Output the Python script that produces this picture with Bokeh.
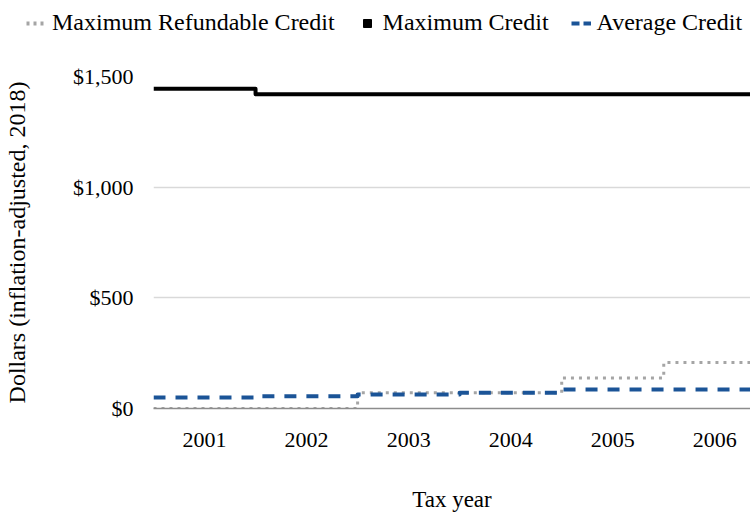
from bokeh.plotting import figure
from bokeh.layouts import column
from bokeh.models import (Legend, LegendItem, FixedTicker, NumeralTickFormatter,
                          Range1d)
from bokeh.embed import file_html
from bokeh.resources import INLINE

# Tax years and credit amounts (inflation-adjusted 2018 dollars)
years = [2001, 2002, 2003, 2004, 2005, 2006]
year_labels = ["2001", "2002", "2003", "2004", "2005", "2006"]
max_refundable_credit = [0, 0, 71, 71, 138, 208]
max_credit = [1445, 1420, 1420, 1420, 1420, 1420]
average_credit = [50, 55, 63, 71, 86, 86]
y_ticks = [0, 500, 1000, 1500]

FONT = "Liberation Serif"
GRAY = "#A5A5A5"
BLUE = "#1B5497"
NAN = float("nan")
LEGEND_H = 52


def step_edges(vals):
    # Each year's value holds across its whole category band
    xs = [y - 0.5 for y in years] + [years[-1] + 0.5]
    ys = list(vals) + [vals[-1]]
    return xs, ys


p = figure(width=750, height=514 - LEGEND_H, output_backend="svg",
           toolbar_location=None,
           x_range=Range1d(2000.5, 2006.35), y_range=Range1d(0, 1500),
           min_border_left=151, min_border_right=0,
           min_border_top=76 - LEGEND_H, min_border_bottom=105)
p.outline_line_color = None
p.background_fill_color = "white"
p.border_fill_color = "white"

xs, ys = step_edges(max_refundable_credit)
p.step(xs, ys, mode="after", line_color=GRAY, line_width=3,
       line_dash="3 5", line_join="round")
xs, ys = step_edges(max_credit)
p.step(xs, ys, mode="after", line_color="black", line_width=4,
       line_join="round")
xs, ys = step_edges(average_credit)
p.step(xs, ys, mode="after", line_color=BLUE, line_width=4,
       line_dash="12 10", line_join="round")

# Axes
p.xaxis.ticker = FixedTicker(ticks=years)
p.xaxis.major_label_overrides = {y: s for y, s in zip(years, year_labels)}
p.xaxis.axis_label = "Tax year"
p.xaxis.axis_line_color = "#8C8C8C"
p.xaxis.axis_line_width = 1.5
p.xaxis.major_tick_line_color = None
p.xaxis.minor_tick_line_color = None
p.xaxis.major_label_standoff = 18
p.xaxis.axis_label_standoff = 37

p.yaxis.ticker = FixedTicker(ticks=y_ticks)
p.yaxis.formatter = NumeralTickFormatter(format="$0,0")
p.yaxis.axis_label = "Dollars (inflation-adjusted, 2018)"
p.yaxis.axis_line_color = None
p.yaxis.major_tick_line_color = None
p.yaxis.minor_tick_line_color = None
p.yaxis.major_label_standoff = 14
p.yaxis.axis_label_standoff = 40

for ax in (p.xaxis[0], p.yaxis[0]):
    ax.major_label_text_font = FONT
    ax.major_label_text_font_size = "22px"
    ax.major_label_text_color = "black"
    ax.axis_label_text_font = FONT
    ax.axis_label_text_font_size = "23px"
    ax.axis_label_text_font_style = "normal"
    ax.axis_label_text_color = "black"
p.yaxis.axis_label_text_font_size = "24px"

p.xgrid.grid_line_color = None
p.ygrid.grid_line_color = "#D9D9D9"
p.ygrid.grid_line_width = 1.5

# Legend strip across the top of the chart; its frame spans the full width
lg = figure(width=750, height=LEGEND_H, output_backend="svg",
            toolbar_location=None, x_axis_type=None, y_axis_type=None,
            x_range=Range1d(0, 1), y_range=Range1d(0, 1),
            min_border=0, frame_align=False)
lg.outline_line_color = None
lg.xgrid.grid_line_color = None
lg.ygrid.grid_line_color = None
sw_ref = lg.line([0], [NAN], line_color=GRAY, line_width=4, line_dash="3 4")
sw_max = lg.scatter([0], [NAN], marker="square", size=11,
                    fill_color="black", line_color="black")
sw_avg = lg.line([0], [NAN], line_color=BLUE, line_width=4, line_dash="8 4")

legend = Legend(items=[
    LegendItem(label="Maximum Refundable Credit", renderers=[sw_ref]),
    LegendItem(label="Maximum Credit", renderers=[sw_max]),
    LegendItem(label="Average Credit", renderers=[sw_avg]),
], orientation="horizontal", location=(26, 16))
legend.label_text_font = FONT
legend.label_text_font_size = "24px"
legend.label_text_color = "black"
legend.glyph_width = 20
legend.glyph_height = 20
legend.label_standoff = 6
legend.spacing = 22
legend.padding = 0
legend.margin = 0
legend.border_line_color = None
legend.background_fill_alpha = 0
lg.add_layout(legend, "center")

layout = column(lg, p, spacing=0)
open("out.html", "w").write(file_html(layout, INLINE))
